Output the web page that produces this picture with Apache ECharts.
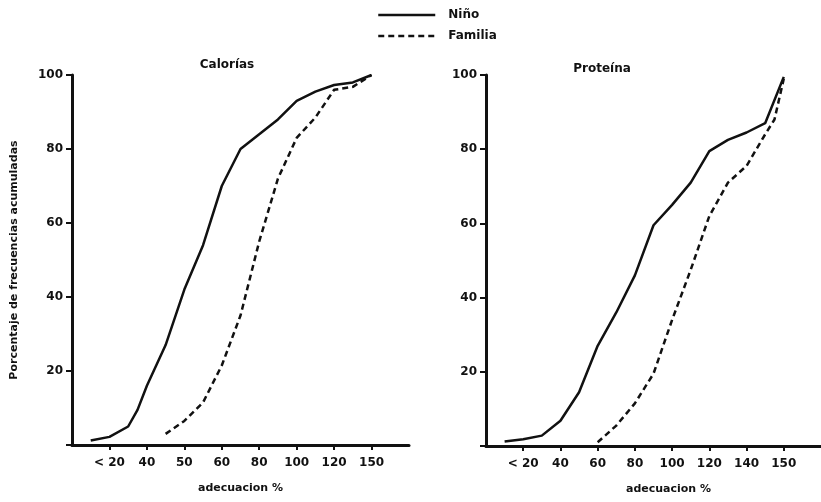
<!DOCTYPE html>
<html>
<head>
<meta charset="utf-8">
<script src="https://cdn.jsdelivr.net/npm/echarts@6/dist/echarts.min.js"></script>
<style>
  html, body { margin: 0; padding: 0; background: #fff; }
  #chart { width: 821px; height: 502px; }
</style>
</head>
<body>
<div id="chart"></div>
<script>
    // tick labels (axis positions 1..8)
    var caloriasTicks = ['< 20', '40', '50', '60', '80', '100', '120', '150']
    var proteinaTicks = ['< 20', '40', '60', '80', '100', '120', '140', '150']
    var tickPositions = [1, 2, 3, 4, 5, 6, 7, 8]

    // Calorías - x in tick-position units, y in %
    var calNinoX = [0.5, 1, 1.5, 1.75, 2, 2.5, 3, 3.5, 4, 4.5, 5, 5.5, 6, 6.5, 7, 7.5, 8]
    var calNinoY = [1.2, 2.2, 5, 9.5, 16, 27, 42, 54, 70, 80, 84, 88, 93, 95.5, 97.3, 98, 100]
    var calFamX = [2.5, 3, 3.5, 4, 4.5, 5, 5.5, 6, 6.5, 7, 7.5, 8]
    var calFamY = [3, 6.5, 11.5, 21.5, 35, 55, 72, 83, 88.5, 96, 96.8, 100]

    // Proteína
    var proNinoX = [0.5, 1, 1.5, 2, 2.5, 3, 3.5, 4, 4.5, 5, 5.5, 6, 6.5, 7, 7.5, 8]
    var proNinoY = [1.2, 1.8, 2.8, 6.8, 14.5, 27, 36, 46, 59.5, 65, 71, 79.5, 82.5, 84.5, 87, 99.5]
    var proFamX = [3, 3.5, 4, 4.5, 5, 5.5, 6, 6.5, 7, 7.5, 7.75, 8]
    var proFamY = [1, 5.5, 11.5, 19.5, 34, 47.5, 62, 71, 75.5, 84, 88, 99]

    function pairs(xs, ys) {
        return xs.map(function (x, i) { return [x, ys[i]] })
    }

    var ink = '#111'
    var font = 'DejaVu Sans'

    function xAxisFor(idx, ticks, padLeft) {
        return {
            gridIndex: idx,
            type: 'value',
            min: 0,
            max: 9,
            interval: 1,
            splitLine: { show: false },
            axisLine: { show: true, onZero: false, lineStyle: { color: ink, width: 3 } },
            axisTick: { show: true, length: 5, customValues: tickPositions, lineStyle: { color: ink, width: 2 } },
            axisLabel: {
                color: ink, fontFamily: font, fontWeight: 'bold', fontSize: 12, margin: 12,
                customValues: tickPositions,
                formatter: function (v) { return ticks[v - 1] || '' }
            },
            name: 'adecuacion %',
            nameLocation: 'middle',
            nameGap: 38,
            nameTextStyle: { color: ink, fontFamily: font, fontWeight: 'bold', fontSize: 11, padding: [0, 0, 0, padLeft] }
        }
    }

    function yAxisFor(idx, withName) {
        return {
            gridIndex: idx,
            type: 'value',
            min: 0,
            max: 100,
            interval: 20,
            splitLine: { show: false },
            axisLine: { show: true, lineStyle: { color: ink, width: 3 } },
            axisTick: { show: true, length: 6, lineStyle: { color: ink, width: 2 } },
            axisLabel: {
                color: ink, fontFamily: font, fontWeight: 'bold', fontSize: 12, margin: 9,
                formatter: function (v) { return v === 0 ? '' : String(v) }
            },
            name: withName ? 'Porcentaje de frecuencias acumuladas' : '',
            nameLocation: 'middle',
            nameRotate: 90,
            nameGap: 52,
            nameTextStyle: { color: ink, fontFamily: font, fontWeight: 'bold', fontSize: 11 }
        }
    }

    function lineSeries(name, idx, data, dashed) {
        return {
            name: name,
            type: 'line',
            xAxisIndex: idx,
            yAxisIndex: idx,
            data: data,
            symbol: 'none',
            smooth: false,
            lineStyle: { color: ink, width: 2.5, type: dashed ? [6, 4] : 'solid' },
            itemStyle: { color: ink }
        }
    }

    var dom = echarts.init(document.getElementById('chart'))
    var option = {
        backgroundColor: '#fff',
        animation: false,
        title: [
            { text: 'Calorías', left: 222, top: 54, textAlign: 'center',
              textStyle: { color: ink, fontFamily: font, fontWeight: 'bold', fontSize: 12 } },
            { text: 'Proteína', left: 597, top: 58, textAlign: 'center',
              textStyle: { color: ink, fontFamily: font, fontWeight: 'bold', fontSize: 12 } }
        ],
        legend: {
            orient: 'vertical',
            left: 372,
            top: 4,
            itemWidth: 57,
            itemHeight: 10,
            itemGap: 9,
            itemStyle: { opacity: 0 },
            lineStyle: { width: 2.5 },
            textStyle: { color: ink, fontFamily: font, fontWeight: 'bold', fontSize: 12, padding: [0, 0, 0, 8] },
            data: ['Niño', 'Familia']
        },
        grid: [
            { left: 72, top: 75, width: 337, height: 370 },
            { left: 486, top: 75, width: 340, height: 371 }
        ],
        xAxis: [xAxisFor(0, caloriasTicks, 0), xAxisFor(1, proteinaTicks, 30)],
        yAxis: [yAxisFor(0, true), yAxisFor(1, false)],
        series: [
            lineSeries('Niño', 0, pairs(calNinoX, calNinoY), false),
            lineSeries('Familia', 0, pairs(calFamX, calFamY), true),
            lineSeries('Niño', 1, pairs(proNinoX, proNinoY), false),
            lineSeries('Familia', 1, pairs(proFamX, proFamY), true)
        ]
    }
    dom.setOption(option)
</script>
</body>
</html>
